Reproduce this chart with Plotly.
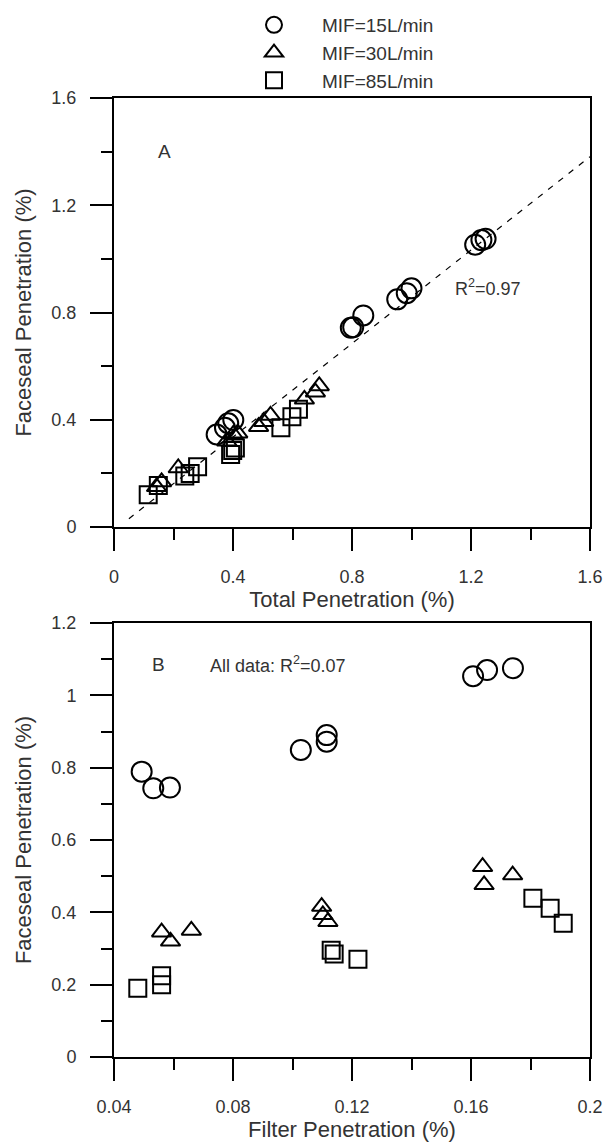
import plotly.graph_objects as go

# ---------------- data ----------------
series_names = ["MIF=15L/min", "MIF=30L/min", "MIF=85L/min"]

# Panel A: Total penetration (x) vs Faceseal penetration (y)
a_c_x = [0.345, 0.373, 0.384, 0.401, 0.796, 0.804, 0.838, 0.952, 0.984, 1.000, 1.214, 1.235, 1.249]
a_c_y = [0.345, 0.370, 0.387, 0.399, 0.743, 0.745, 0.789, 0.849, 0.872, 0.890, 1.053, 1.070, 1.075]
a_t_x = [0.143, 0.160, 0.216, 0.379, 0.401, 0.416, 0.486, 0.503, 0.526, 0.640, 0.677, 0.690]
a_t_y = [0.150, 0.168, 0.220, 0.320, 0.345, 0.350, 0.374, 0.393, 0.416, 0.476, 0.503, 0.526]
a_s_x = [0.115, 0.149, 0.238, 0.256, 0.281, 0.392, 0.399, 0.408, 0.561, 0.598, 0.620]
a_s_y = [0.120, 0.155, 0.190, 0.200, 0.225, 0.270, 0.285, 0.295, 0.370, 0.411, 0.439]

fit_x = [0.05, 1.6]
fit_y = [0.031, 1.381]

# Panel B: Filter penetration (x) vs Faceseal penetration (y)
b_c_x = [0.0493, 0.0532, 0.0588, 0.1028, 0.1115, 0.1115, 0.1607, 0.1654, 0.1741]
b_c_y = [0.789, 0.743, 0.745, 0.849, 0.890, 0.872, 1.053, 1.070, 1.075]
b_t_x = [0.056, 0.059, 0.066, 0.1098, 0.1102, 0.1119, 0.1639, 0.1644, 0.174]
b_t_y = [0.345, 0.320, 0.350, 0.416, 0.393, 0.374, 0.526, 0.476, 0.503]
b_s_x = [0.048, 0.056, 0.056, 0.113, 0.114, 0.122, 0.1808, 0.1866, 0.191]
b_s_y = [0.190, 0.200, 0.225, 0.295, 0.285, 0.270, 0.439, 0.411, 0.370]

a_x_ticks = [0, 0.4, 0.8, 1.2, 1.6]
a_x_labels = ["0", "0.4", "0.8", "1.2", "1.6"]
a_y_ticks = [0, 0.4, 0.8, 1.2, 1.6]
a_y_labels = ["0", "0.4", "0.8", "1.2", "1.6"]
b_x_ticks = [0.04, 0.08, 0.12, 0.16, 0.2]
b_x_labels = ["0.04", "0.08", "0.12", "0.16", "0.2"]
b_y_ticks = [0, 0.2, 0.4, 0.6, 0.8, 1.0, 1.2]
b_y_labels = ["0", "0.2", "0.4", "0.6", "0.8", "1", "1.2"]

# ---------------- style ----------------
W, H = 606, 1144
FONT = "Liberation Sans, Arial, sans-serif"
TXT = "#333333"
symbols = ["circle-open", "triangle-up-open", "square-open"]
sizes = [20, 17, 17]

fig = go.Figure()

a_sets = [(a_c_x, a_c_y), (a_t_x, a_t_y), (a_s_x, a_s_y)]
b_sets = [(b_c_x, b_c_y), (b_t_x, b_t_y), (b_s_x, b_s_y)]

fig.add_trace(go.Scatter(x=fit_x, y=fit_y, mode="lines", showlegend=False,
                         line=dict(color="black", width=1.2, dash="6px,7px"),
                         xaxis="x", yaxis="y", hoverinfo="skip"))

for i, (xs, ys) in enumerate(a_sets):
    fig.add_trace(go.Scatter(x=xs, y=ys, mode="markers", name=series_names[i],
                             legendgroup=series_names[i], showlegend=True,
                             marker=dict(symbol=symbols[i], size=sizes[i], color="black",
                                         line=dict(width=2, color="black")),
                             xaxis="x", yaxis="y"))
for i, (xs, ys) in enumerate(b_sets):
    fig.add_trace(go.Scatter(x=xs, y=ys, mode="markers", name=series_names[i],
                             legendgroup=series_names[i], showlegend=False,
                             marker=dict(symbol=symbols[i], size=sizes[i], color="black",
                                         line=dict(width=2, color="black")),
                             xaxis="x2", yaxis="y2"))

xdom = [114 / W, 590 / W]
ydomA = [1 - 527 / H, 1 - 98 / H]
ydomB = [1 - 1057 / H, 1 - 623 / H]

def axis(domain, rng, tickvals, ticktext, minor_dtick, title, anchor, standoff):
    return dict(domain=domain, range=rng, tickvals=tickvals, ticktext=ticktext,
                showgrid=False, zeroline=False, showline=True, linecolor="black",
                linewidth=2, mirror=True, ticks="outside", ticklen=22, tickwidth=1.8,
                tickcolor="black",
                minor=dict(dtick=minor_dtick, ticks="outside", ticklen=11, tickwidth=1.8,
                           tickcolor="black", showgrid=False),
                tickfont=dict(family=FONT, size=18, color=TXT),
                ticklabelstandoff=10,
                title=dict(text=title, font=dict(family=FONT, size=22, color=TXT),
                           standoff=standoff),
                anchor=anchor, automargin=False)

fig.update_layout(
    width=W, height=H,
    margin=dict(l=0, r=0, t=0, b=0),
    paper_bgcolor="white", plot_bgcolor="white",
    showlegend=True,
    legend=dict(x=226 / W, y=1 - 6 / H, xanchor="left", yanchor="top",
                font=dict(family=FONT, size=19, color=TXT),
                itemwidth=86, tracegroupgap=0, bgcolor="rgba(0,0,0,0)"),
    xaxis=axis(xdom, [0, 1.6], a_x_ticks, a_x_labels, 0.2, "Total Penetration (%)", "y", 4),
    yaxis=axis(ydomA, [0, 1.6], a_y_ticks, a_y_labels, 0.2, "Faceseal Penetration (%)", "x", 14),
    xaxis2=axis(xdom, [0.04, 0.2], b_x_ticks, b_x_labels, 0.02, "Filter Penetration (%)", "y2", 4),
    yaxis2=axis(ydomB, [0, 1.2], b_y_ticks, b_y_labels, 0.1, "Faceseal Penetration (%)", "x2", 14),
    annotations=[
        dict(x=0.17, y=1.40, xref="x", yref="y", text="A", showarrow=False,
             font=dict(family=FONT, size=19, color=TXT)),
        dict(x=1.14, y=0.895, xref="x", yref="y", text="R<sup>2</sup>=0.97", showarrow=False,
             xanchor="left", font=dict(family=FONT, size=18, color=TXT)),
        dict(x=0.0548, y=1.084, xref="x2", yref="y2", text="B", showarrow=False,
             font=dict(family=FONT, size=19, color=TXT)),
        dict(x=0.0716, y=1.084, xref="x2", yref="y2", text="All data: R<sup>2</sup>=0.07",
             showarrow=False, xanchor="left", font=dict(family=FONT, size=18, color=TXT)),
    ],
)

fig.write_html("out.html")
